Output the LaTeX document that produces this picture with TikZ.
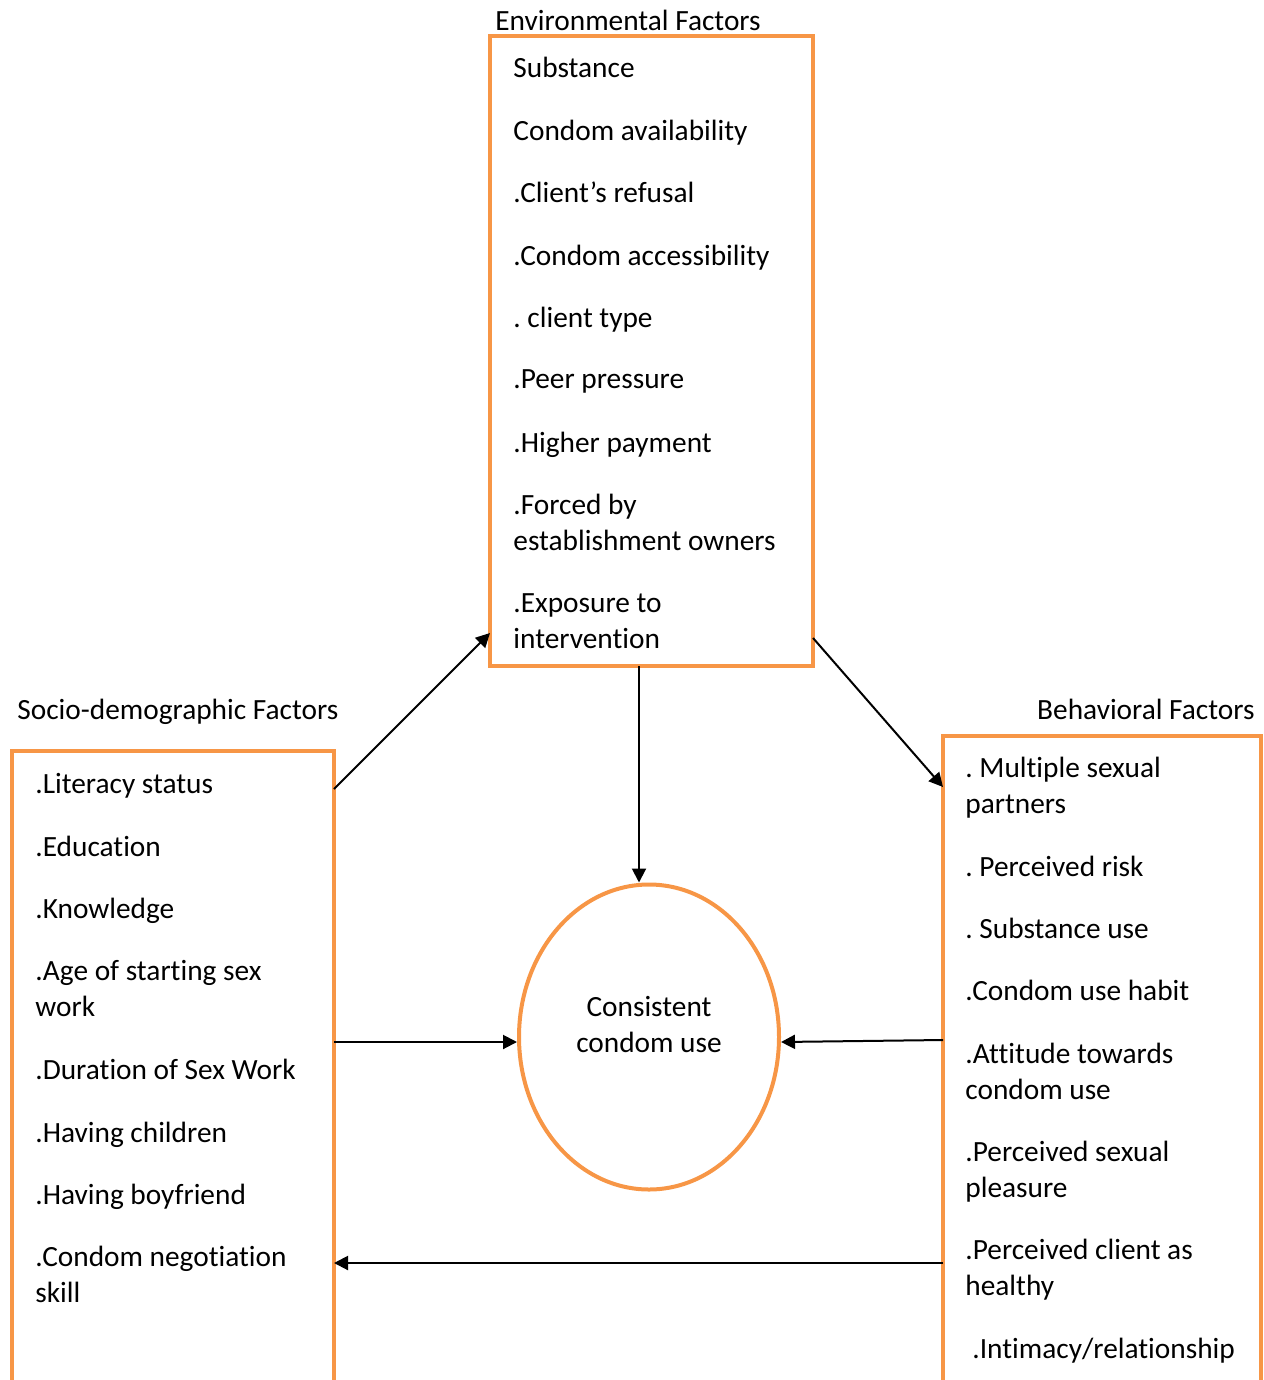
\documentclass[tikz,border=0pt]{standalone}
\usepackage{fontspec}
\setmainfont{Carlito}[Ligatures=NoCommon]
\usetikzlibrary{arrows.meta,shapes.geometric}
\definecolor{boxorange}{HTML}{F79646}

\begin{document}
\frenchspacing
\begin{tikzpicture}[x=0.5pt,y=-0.5pt,
  factorbox/.style={draw=boxorange, line width=2pt, anchor=north west, inner sep=0, outer sep=0},
  item/.style={anchor=west, align=left, inner sep=0, text depth=0pt,
               font=\fontsize{14.67}{18}\selectfont},
  arr/.style={-{Triangle[length=7pt,width=7pt]}, line width=1pt}]
  \useasboundingbox (0,0) rectangle (1263,1380);
  \clip (0,0) rectangle (1263,1380);

  % the three boxes and the centre
  \node [factorbox, minimum width=161.5pt, minimum height=315pt] (env) at (490,36) {};
  \node [factorbox, minimum width=161pt, minimum height=330pt] (socio) at (12,751) {};
  \node [factorbox, minimum width=159pt, minimum height=335pt] (behav) at (943,736) {};
  \node [draw=boxorange, line width=2pt, ellipse, inner sep=0,
         minimum width=130pt, minimum height=152.5pt] (cons) at (649,1037) {};
  \node [item, anchor=center, align=center] (constext) at (649,1024) {Consistent\\condom use};

  % headings
  \node [item] (envtitle) at (495,20) {Environmental Factors};
  \node [item] (sociotitle) at (17,709) {Socio-demographic Factors};
  \node [item, anchor=east] (behavtitle) at (1255,709) {Behavioral Factors};

  % environmental factors
  \node [item] (substance) at (513,67) {Substance};
  \node [item] (avail) at (513,130) {Condom availability};
  \node [item] (refusal) at (513,192) {.Client’s refusal};
  \node [item] (access) at (513,255) {.Condom accessibility};
  \node [item] (clienttype) at (513,317) {. client type};
  \node [item] (peer) at (513,379) {.Peer pressure};
  \node [item] (payment) at (513,442) {.Higher payment};
  \node [item] (forced) at (513,522) {.Forced by\\establishment owners};
  \node [item] (exposure) at (513,621) {.Exposure to\\intervention};

  % socio-demographic factors
  \node [item] (literacy) at (35,783) {.Literacy status};
  \node [item] (education) at (35,846) {.Education};
  \node [item] (knowledge) at (35,908) {.Knowledge};
  \node [item] (agestart) at (35,988) {.Age of starting sex\\work};
  \node [item] (duration) at (35,1069) {.Duration of Sex Work};
  \node [item] (children) at (35,1132) {.Having children};
  \node [item] (boyfriend) at (35,1194) {.Having boyfriend};
  \node [item] (negotiation) at (35,1274) {.Condom negotiation\\skill};

  % behavioral factors
  \node [item] (partners) at (965,785) {. Multiple sexual\\partners};
  \node [item] (risk) at (965,866) {. Perceived risk};
  \node [item] (subuse) at (965,928) {. Substance use};
  \node [item] (habit) at (965,990) {.Condom use habit};
  \node [item] (attitude) at (965,1071) {.Attitude towards\\condom use};
  \node [item] (pleasure) at (965,1169) {.Perceived sexual\\pleasure};
  \node [item] (healthy) at (965,1267) {.Perceived client as\\healthy};
  \node [item] (intimacy) at (972,1348) {.Intimacy/relationship};

  % arrow ends on the box edges
  \coordinate (socA) at (334,789);
  \coordinate (envA) at (490,633);
  \coordinate (envB) at (813,638);
  \coordinate (behA) at (943,787);
  \coordinate (envC) at (639,666);
  \coordinate (socB) at (334,1042);
  \coordinate (behB) at (943,1040);
  \coordinate (behC) at (943,1263);
  \coordinate (socC) at (334,1263);

  \draw [arr] (socA) -- (envA);
  \draw [arr] (envB) -- (behA);
  \draw [arr] (envC) -- (cons.north -| envC);
  \draw [arr] (socB) -- (cons.west |- socB);
  \draw [arr] (behB) -- (cons.east |- socB);
  \draw [arr] (behC) -- (socC);
\end{tikzpicture}
\end{document}
